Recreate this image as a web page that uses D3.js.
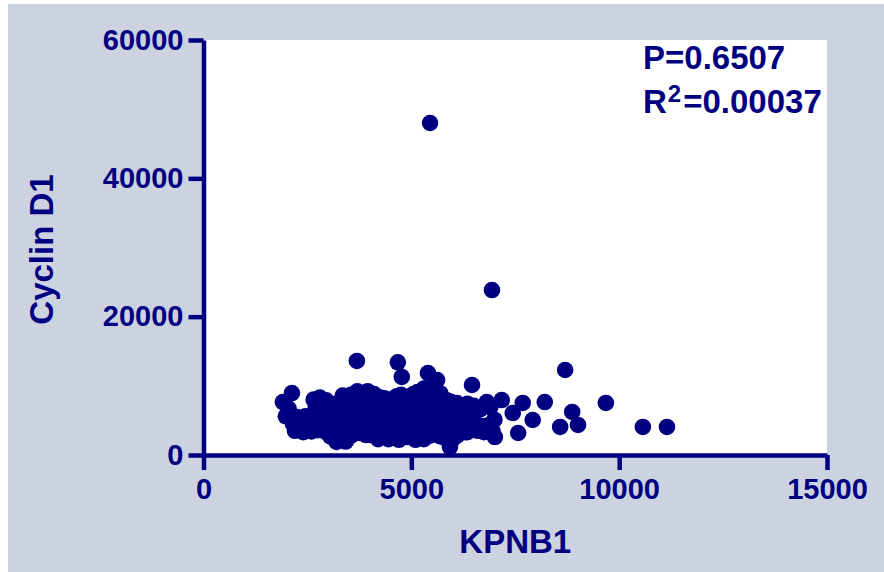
<!DOCTYPE html>
<html>
<head>
<meta charset="utf-8">
<script src="https://cdn.jsdelivr.net/npm/d3@7"></script>
<style>
  html, body { margin: 0; padding: 0; background: #ffffff; }
  svg { display: block; }
</style>
</head>
<body>
<svg id="chart" width="884" height="572"></svg>
<script>
// Axis ticks and labels
const xTicks = [0, 5000, 10000, 15000];
const yTicks = [0, 20000, 40000, 60000];
const xTitle = "KPNB1";
const yTitle = "Cyclin D1";
const pText = "P=0.6507";
const r2Text = "=0.00037";

// Expression pairs per sample: [KPNB1, Cyclin D1]
const outliers = [
  [5450, 48000], [6940, 23850], [3690, 13600], [4675, 13400], [4770, 11280],
  [5400, 11850], [5620, 10840], [6460, 10120], [8700, 12290], [9680, 7520],
  [10570, 4050], [11150, 4050], [8210, 7660], [8580, 4050], [8870, 6220],
  [9010, 4340]
];
const upperRange = [
  [6815, 7660], [7175, 7950], [7680, 7520], [7440, 6070], [7920, 5060],
  [7570, 3180], [7010, 2600], [6900, 6900], [7000, 5100], [6850, 4300],
  [6950, 3500], [6750, 3300]
];
const lowerRange = [
  [1910, 7660], [2127, 8960], [2050, 6700], [1980, 5600], [2150, 4550],
  [2250, 5500], [2300, 4300], [2200, 3500], [2400, 3300], [2450, 5600],
  [2550, 4500], [2350, 5200],
  [2650, 8000], [2800, 8300], [2950, 7900], [2700, 6800], [2900, 6300],
  [2650, 5300], [2800, 4700], [2600, 3400], [2750, 3600], [2950, 3300],
  [2850, 5600], [2700, 4200],
  [3050, 7400], [3200, 7400], [3350, 8600], [3100, 6000], [3300, 5800],
  [3050, 4800], [3250, 4500], [3400, 3700], [3150, 3100], [3300, 2300],
  [3200, 1900], [3420, 1950], [3400, 6900], [3050, 2700]
];
const midRange = [
  [3550, 8700], [3700, 9200], [3850, 9000], [3500, 7800], [3650, 7300],
  [3800, 6600], [3550, 6200], [3700, 5200], [3850, 4900], [3500, 4400],
  [3600, 3600], [3750, 3200], [3900, 2900], [3550, 2800], [3800, 4000],
  [3650, 8100],
  [3950, 9200], [4100, 8800], [4250, 8300], [4000, 7600], [4150, 7000],
  [4300, 6400], [3950, 6000], [4100, 5500], [4250, 4800], [4000, 4300],
  [4150, 3700], [4300, 3100], [4000, 2900], [4200, 2300], [4100, 6500],
  [4250, 7700],
  [4350, 8200], [4500, 8000], [4650, 8500], [4400, 7200], [4600, 6800],
  [4450, 6000], [4650, 5600], [4350, 5100], [4550, 4500], [4700, 4000],
  [4400, 3500], [4600, 3000], [4450, 2300], [4700, 2200], [4550, 7500],
  [4350, 4200],
  [4750, 8700], [4900, 8400], [5050, 8800], [4800, 7500], [5000, 7000],
  [4850, 6300], [5050, 5800], [4750, 5200], [4950, 4700], [5100, 4200],
  [4800, 3700], [5000, 3200], [4900, 2600], [5100, 2200], [4750, 6800],
  [5000, 6400]
];
const highRange = [
  [5150, 9100], [5300, 9600], [5450, 9000], [5200, 8200], [5400, 7600],
  [5250, 7000], [5450, 6500], [5150, 6000], [5350, 5400], [5500, 4800],
  [5200, 4600], [5400, 4000], [5250, 3400], [5450, 2800], [5300, 2300],
  [5500, 3600], [5150, 5200], [5350, 8600],
  [5550, 9800], [5700, 8900], [5850, 7900], [5600, 8300], [5750, 7200],
  [5550, 6700], [5800, 6200], [5650, 5600], [5850, 5000], [5600, 4500],
  [5750, 3900], [5550, 3300], [5700, 2700], [5850, 2300], [5900, 3500],
  [5650, 7600],
  [5950, 7700], [6100, 7500], [6250, 7000], [6000, 6600], [6200, 6100],
  [5950, 5500], [6100, 5000], [6250, 4500], [6000, 4100], [6150, 3500],
  [5930, 1150], [5980, 2200], [6300, 3300], [6100, 2800],
  [6350, 7400], [6500, 7100], [6650, 6600], [6400, 6300], [6300, 5800],
  [6350, 5200], [6550, 4500], [6700, 4200], [6400, 4000], [6600, 3500],
  [6350, 3300], [6500, 6700]
];
const samples = [].concat(lowerRange, midRange, highRange, upperRange, outliers);

const W = 884, H = 572;
const navy = "#000080";
const frame = { left: 203.5, right: 827, top: 40, bottom: 455 };
const fontFamily = "Arial, 'Liberation Sans', Helvetica, sans-serif";

const svg = d3.select("#chart");

// panel background
svg.append("rect")
  .attr("x", 8).attr("y", 4)
  .attr("width", W - 8).attr("height", H - 4)
  .attr("fill", "#cdd2e0");

const x = d3.scaleLinear().domain([0, 15000]).range([frame.left, frame.right]);
const y = d3.scaleLinear().domain([0, 60000]).range([frame.bottom, frame.top]);

// plotting area
svg.append("rect")
  .attr("x", frame.left).attr("y", frame.top)
  .attr("width", frame.right - frame.left)
  .attr("height", frame.bottom - frame.top)
  .attr("fill", "#ffffff");

// scatter points
svg.append("g")
  .selectAll("circle")
  .data(samples)
  .join("circle")
  .attr("cx", d => x(d[0]))
  .attr("cy", d => y(d[1]))
  .attr("r", 8.3)
  .attr("fill", navy);

function styleAxis(g) {
  g.selectAll(".domain").attr("stroke", navy).attr("stroke-width", 4.5);
  g.selectAll(".tick line").attr("stroke", navy).attr("stroke-width", 4.5);
  g.selectAll(".tick text")
    .attr("fill", navy)
    .attr("font-family", fontFamily)
    .attr("font-weight", "bold")
    .attr("font-size", 29);
}

svg.append("g")
  .attr("transform", `translate(0,${frame.bottom})`)
  .call(d3.axisBottom(x).tickValues(xTicks).tickSize(15).tickSizeOuter(0)
    .tickPadding(8).tickFormat(d3.format("d")))
  .call(styleAxis);

svg.append("g")
  .attr("transform", `translate(${frame.left},0)`)
  .call(d3.axisLeft(y).tickValues(yTicks).tickSize(15).tickSizeOuter(0)
    .tickPadding(5).tickFormat(d3.format("d")))
  .call(styleAxis);

// axis titles
svg.append("text")
  .attr("x", (frame.left + frame.right) / 2)
  .attr("y", 553)
  .attr("text-anchor", "middle")
  .attr("fill", navy)
  .attr("font-family", fontFamily)
  .attr("font-weight", "bold")
  .attr("font-size", 33)
  .text(xTitle);

svg.append("text")
  .attr("transform", `translate(53,${(frame.top + frame.bottom) / 2 + 2}) rotate(-90)`)
  .attr("text-anchor", "middle")
  .attr("fill", navy)
  .attr("font-family", fontFamily)
  .attr("font-weight", "bold")
  .attr("font-size", 33)
  .text(yTitle);

// regression statistics
const stats = svg.append("g")
  .attr("fill", navy)
  .attr("font-family", fontFamily)
  .attr("font-weight", "bold")
  .attr("font-size", 33);

stats.append("text").attr("x", 643).attr("y", 69).text(pText);

const r2 = stats.append("text").attr("x", 643).attr("y", 113);
r2.append("tspan").text("R");
r2.append("tspan").attr("font-size", 24).attr("dx", 1).attr("dy", -11).text("2");
r2.append("tspan").attr("dx", 2).attr("dy", 11).text(r2Text);
</script>
</body>
</html>
